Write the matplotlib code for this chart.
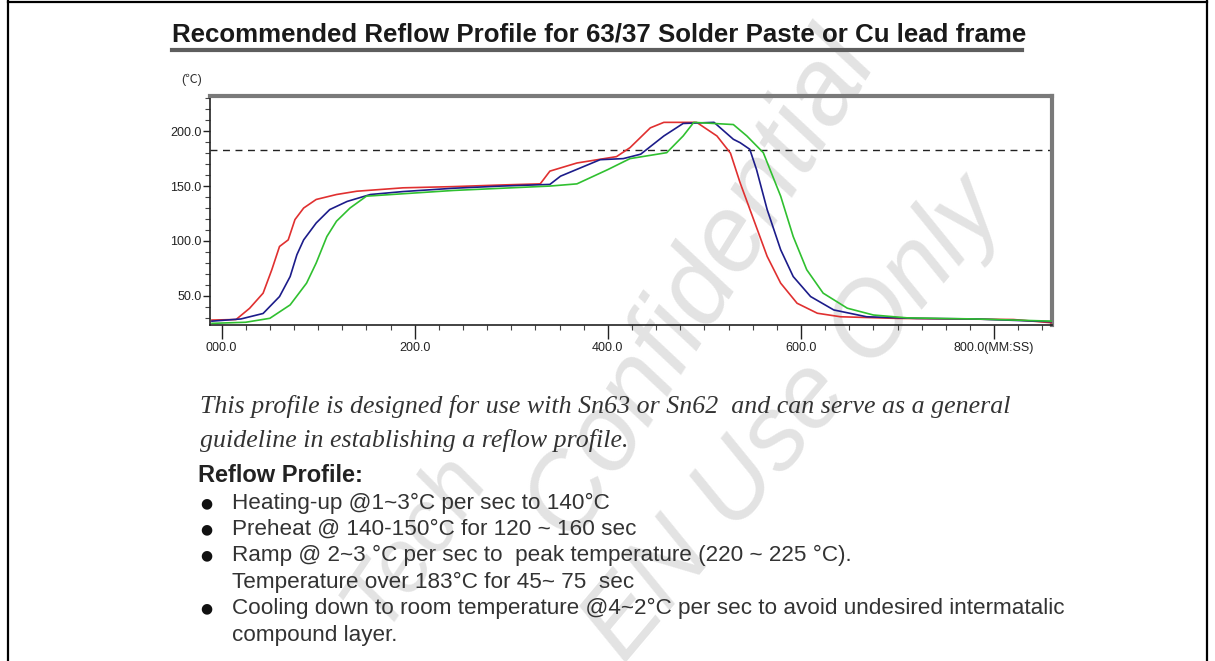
import matplotlib
matplotlib.use("Agg")
import matplotlib.pyplot as plt
from matplotlib.lines import Line2D
from matplotlib.ticker import MultipleLocator, FixedLocator

# ---- data -------------------------------------------------------------
title_text = "Recommended Reflow Profile for 63/37 Solder Paste or Cu lead frame"
y_unit = "(\u2103)"

x_ticks = [0, 200, 400, 600, 800]
x_tick_labels = ["000.0", "200.0", "400.0", "600.0", "800.0(MM:SS)"]
y_ticks = [50, 100, 150, 200]
y_tick_labels = ["50.0", "100.0", "150.0", "200.0"]
liquidus = 183

red_x = [-10, 15, 29, 43, 52, 60, 69, 76, 85, 98, 119, 140, 188, 240, 290, 330,
         340, 368, 409, 423, 444, 458, 492, 513, 527, 537, 551, 565, 579, 596,
         617, 641, 700, 760, 820, 860]
red_y = [28, 28.5, 38.7, 52.5, 73.8, 95, 101, 119.5, 130, 137.8, 142.3, 145.3,
         148.4, 149.5, 151, 152, 163.6, 171, 176.8, 185, 203, 208, 208, 195.6,
         180, 153, 119.5, 86, 61.6, 43.3, 34.2, 31, 29.5, 29, 28.5, 25.5]

blue_x = [-10, 20, 43, 60, 71, 78, 85, 98, 112, 130, 154, 188, 240, 290, 340,
          351, 392, 416, 434, 458, 478, 510, 530, 537, 547, 554, 565, 579, 592,
          610, 634, 668, 720, 780, 860]
blue_y = [27, 29, 34, 49.4, 67.6, 87.5, 101, 116.4, 128.6, 136, 142.3, 145, 148,
          150, 151.5, 159, 174, 175, 179, 195.6, 207, 208, 192.6, 189.5, 183.5,
          165, 128.6, 92, 67.6, 49.4, 37.2, 31, 29.5, 29, 26.5]

green_x = [-10, 25, 50, 71, 88, 98, 109, 119, 133, 150, 188, 240, 290, 340, 368,
           400, 423, 461, 478, 489, 530, 544, 561, 579, 592, 606, 623, 648, 675,
           710, 780, 860]
green_y = [25, 26, 29.6, 41.8, 61.6, 80, 104, 118, 130, 140.8, 143, 146, 148,
           150, 152, 165, 175, 180.4, 195.6, 208, 206, 195.6, 180.4, 140.8, 104,
           73.8, 52.5, 38.8, 32.6, 30, 29, 27]

intro_lines = [
    "This profile is designed for use with Sn63 or Sn62  and can serve as a general",
    "guideline in establishing a reflow profile.",
]
section_head = "Reflow Profile:"
bullet_lines = [
    (True, "Heating-up @1~3\u00b0C per sec to 140\u00b0C"),
    (True, "Preheat @ 140-150\u00b0C for 120 ~ 160 sec"),
    (True, "Ramp @ 2~3 \u00b0C per sec to  peak temperature (220 ~ 225 \u00b0C)."),
    (False, "Temperature over 183\u00b0C for 45~ 75  sec"),
    (True, "Cooling down to room temperature @4~2\u00b0C per sec to avoid undesired intermatalic"),
    (False, "compound layer."),
]
watermark_words = ["Tech", "Confidential", "EN Use Only"]

sans = "Liberation Sans"
serif = "Liberation Serif"

W, H = 1215, 661
fig = plt.figure(figsize=(W / 100, H / 100), dpi=100)
fig.patch.set_facecolor("white")


def fx(x):
    return x / W


def fy(y):
    return 1 - y / H


# outer page frame (top, left, right)
for xs, ys in [((8, 1207), (1.5, 1.5)), ((8, 8), (0, H)), ((1207, 1207), (0, H))]:
    fig.add_artist(Line2D([fx(v) for v in xs], [fy(v) for v in ys],
                          color="black", lw=1.6, zorder=5))

# watermark lettering behind the plot
wm_style = dict(family=sans, style="italic", color="#e3e3e3", ha="center",
                va="center", rotation_mode="anchor", zorder=-1)
fig.text(fx(415), fy(540), watermark_words[0], rotation=56, fontsize=64, **wm_style)
fig.text(fx(700), fy(284), watermark_words[1], rotation=58, fontsize=78, **wm_style)
fig.text(fx(795), fy(420), watermark_words[2], rotation=50, fontsize=74, **wm_style)

# ---- plot ---------------------------------------------------------------
ax = fig.add_axes([fx(210), fy(325), fx(1052) - fx(210), fy(96) - fy(325)])
ax.set_facecolor("none")
ax.set_zorder(1)
ax.set_xlim(-12, 860)
ax.set_ylim(23.5, 232)

ax.axhline(liquidus, color="#222222", lw=1.0, ls=(0, (5, 4)), zorder=2)
ax.plot(red_x, red_y, color="#e03030", lw=1.2, zorder=3)
ax.plot(blue_x, blue_y, color="#1c1c8a", lw=1.2, zorder=3)
ax.plot(green_x, green_y, color="#30c030", lw=1.2, zorder=3)

for side in ("top", "right"):
    ax.spines[side].set_color("#7a7a7a")
    ax.spines[side].set_linewidth(3)
for side in ("left", "bottom"):
    ax.spines[side].set_color("#222222")
    ax.spines[side].set_linewidth(1.2)

ax.xaxis.set_major_locator(FixedLocator(x_ticks))
ax.set_xticklabels(x_tick_labels)
ax.xaxis.set_minor_locator(MultipleLocator(25))
ax.yaxis.set_major_locator(FixedLocator(y_ticks))
ax.set_yticklabels(y_tick_labels)
ax.yaxis.set_minor_locator(MultipleLocator(10))
ax.tick_params(axis="x", which="major", length=10, width=1, color="#222222",
               labelsize=9, labelcolor="#222222", direction="out", pad=2)
ax.tick_params(axis="y", which="major", length=5, width=1, color="#222222",
               labelsize=9, labelcolor="#222222", direction="out", pad=1)
ax.tick_params(axis="both", which="minor", length=3.5, width=0.8,
               color="#444444", direction="out")
for lab in ax.get_xticklabels() + ax.get_yticklabels():
    lab.set_family(sans)

fig.text(fx(181), fy(80), y_unit, fontsize=9,
         family=[sans, "Noto Sans CJK SC", "DejaVu Sans"], color="#333333",
         va="center")

# ---- title --------------------------------------------------------------
fig.text(fx(172), fy(34), title_text, fontsize=18.6, family=sans,
         weight="bold", color="#1a1a1a", va="center", ha="left")
fig.add_artist(Line2D([fx(172), fx(1022)], [fy(50), fy(50)], color="#5e5e5e",
                      lw=3))

# ---- notes below the plot -------------------------------------------------
for i, line in enumerate(intro_lines):
    fig.text(fx(200), fy(407 + 33.5 * i), line, fontsize=18.6, family=serif,
             style="italic", color="#333333", va="center", ha="left")

fig.text(fx(198), fy(476), section_head, fontsize=17, family=sans,
         weight="bold", color="#222222", va="center", ha="left")

for i, (dot, line) in enumerate(bullet_lines):
    yy = 503 + 26.4 * i
    if dot:
        fig.text(fx(206), fy(yy), "\u25cf", fontsize=10, family="DejaVu Sans",
                 color="#111111", va="center", ha="center")
    fig.text(fx(232), fy(yy), line, fontsize=16.2, family=sans,
             color="#333333", va="center", ha="left")

fig.savefig("out.png", dpi=100, facecolor="white")
